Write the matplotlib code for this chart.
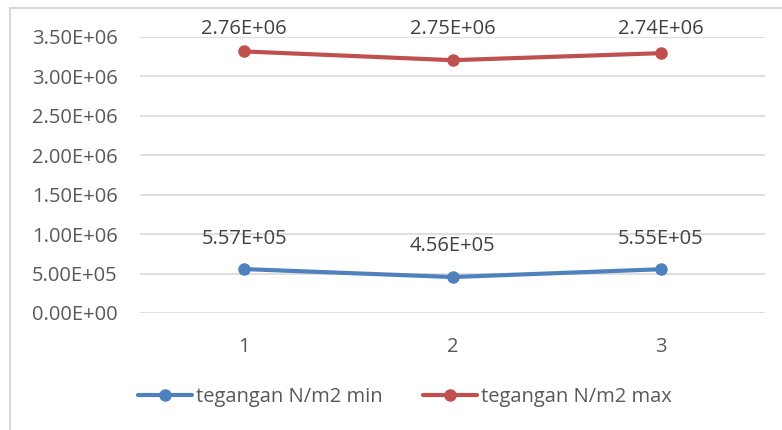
import numpy as np
import matplotlib
matplotlib.use('Agg')
import matplotlib.pyplot as plt
from matplotlib.patches import Rectangle

plt.rcParams['font.family'] = ['Open Sans', 'DejaVu Sans']

categories = ['1', '2', '3']
tegangan_min = [5.57e5, 4.56e5, 5.55e5]
tegangan_max = [2.76e6, 2.75e6, 2.74e6]
labels_min = ['5.57E+05', '4.56E+05', '5.55E+05']
labels_max = ['2.76E+06', '2.75E+06', '2.74E+06']
yticks = np.arange(0, 3.5e6 + 1, 5e5)

blue = '#4F81BD'
red = '#C0504D'
txt = '#595959'
fs = 14.5

fig = plt.figure(figsize=(7.82, 4.30), dpi=100)
ax = fig.add_axes([140 / 782, 1 - 313 / 430, 625 / 782, 276 / 430])

# chart area border (Excel style)
fig.patches.append(Rectangle((10 / 782, -0.1), 1.2, 1 - 8 / 430 + 0.1,
                             transform=fig.transFigure, fill=False,
                             edgecolor='#D9D9D9', linewidth=1.5))

x = np.arange(len(categories))
# stacked line: max series drawn on top of min series
stacked = np.array(tegangan_min) + np.array(tegangan_max)

ax.plot(x, tegangan_min, color=blue, linewidth=3, marker='o', markersize=8,
        label='tegangan N/m2 min', solid_capstyle='round', zorder=3)
ax.plot(x, stacked, color=red, linewidth=3, marker='o', markersize=8,
        label='tegangan N/m2 max', solid_capstyle='round', zorder=3)

for i in x:
    ax.annotate(labels_min[i], (i, tegangan_min[i]), xytext=(0, 22),
                textcoords='offset points', ha='center', va='center',
                fontsize=fs, color='#404040')
    ax.annotate(labels_max[i], (i, 1.0), xycoords=('data', 'axes fraction'),
                xytext=(0, 6), textcoords='offset points', ha='center',
                va='center', fontsize=fs, color='#404040')

ax.set_xlim(-0.5, 2.5)
ax.set_ylim(0, 3.5e6)
ax.set_xticks(x)
ax.set_xticklabels(categories)
ax.set_yticks(yticks)
ax.set_yticklabels(['%.2fE+%02d' % (v / 10 ** (len(str(int(v))) - 1) if v else 0,
                                    (len(str(int(v))) - 1) if v else 0)
                    for v in yticks])
ax.grid(axis='y', color='#D9D9D9', linewidth=1.2)
ax.set_axisbelow(True)
for s in ax.spines.values():
    s.set_visible(False)
ax.tick_params(axis='both', length=0, labelsize=fs, labelcolor=txt)
ax.tick_params(axis='y', pad=16)
ax.tick_params(axis='x', pad=17)

fig.legend(loc='center', bbox_to_anchor=(405 / 782, 1 - 397 / 430), ncol=2,
           frameon=False, fontsize=fs, labelcolor=txt, handlelength=2.7,
           handletextpad=0.2, columnspacing=2.0)

fig.savefig('out.png', dpi=100)
